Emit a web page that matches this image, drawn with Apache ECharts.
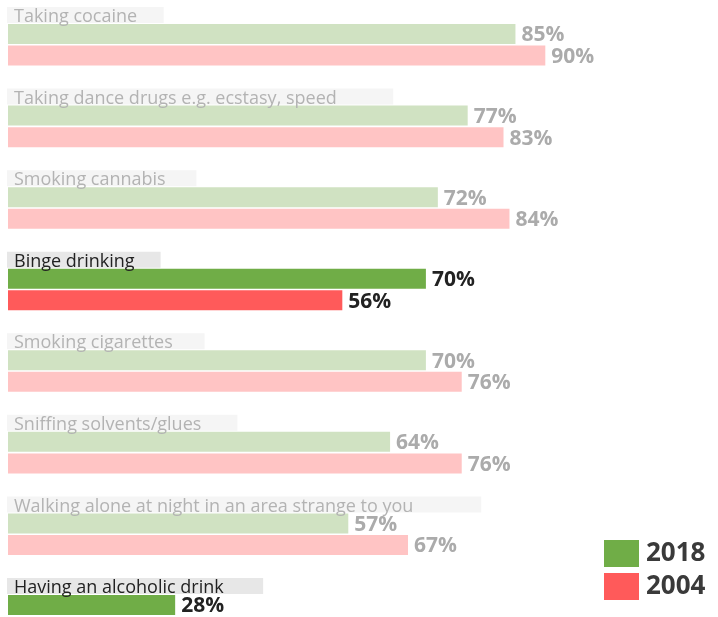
<!DOCTYPE html>
<html>
<head>
<meta charset="utf-8">
<script src="https://cdn.jsdelivr.net/npm/echarts@6/dist/echarts.min.js"></script>
<style>
  html, body { margin: 0; padding: 0; background: #fff; }
  #chart { width: 718px; height: 617px; }
</style>
</head>
<body>
<div id="chart"></div>
<script>
// Share of people who consider each activity risky, 2018 vs 2004
const categories = [
  'Taking cocaine',
  'Taking dance drugs e.g. ecstasy, speed',
  'Smoking cannabis',
  'Binge drinking',
  'Smoking cigarettes',
  'Sniffing solvents/glues',
  'Walking alone at night in an area strange to you',
  'Having an alcoholic drink'
];
const values2018 = [85, 77, 72, 70, 70, 64, 57, 28];
const values2004 = [90, 83, 84, 56, 76, 76, 67, null];
const highlighted = ['Binge drinking', 'Having an alcoholic drink'];

const GREEN = '#70AD47', GREEN_FADED = '#d0e2c2';
const RED = '#FF5A5A', RED_FADED = '#ffc4c4';
const FONT = '"Open Sans", "Noto Sans", sans-serif';

const isHi = i => highlighted.indexOf(categories[i]) >= 0;

const measureCtx = document.createElement('canvas').getContext('2d');
function textWidth(s, font) {
  measureCtx.font = font;
  return measureCtx.measureText(s).width;
}

function barData(values, strong, faded) {
  return values.map((v, i) => {
    if (v == null) return '-';
    const hi = isHi(i);
    return {
      value: v,
      itemStyle: { color: hi ? strong : faded },
      label: { color: hi ? '#222' : '#ababab' }
    };
  });
}

const chart = echarts.init(document.getElementById('chart'), null, { renderer: 'canvas' });

const BAR_W = 20;
const BAND = 81.57;
const valueLabel = {
  show: true,
  position: 'right',
  distance: 6,
  offset: [0, 1.5],
  formatter: '{c}%',
  fontFamily: FONT,
  fontWeight: 'bold',
  fontSize: 21
};

chart.setOption({
  animation: false,
  grid: {
    left: 8, top: 4, width: 597, height: BAND * categories.length,
    outerBoundsMode: 'none', containLabel: false
  },
  xAxis: { type: 'value', min: 0, max: 100, show: false },
  yAxis: { type: 'category', inverse: true, data: categories, show: false },
  legend: {
    orient: 'vertical',
    left: 599,
    top: 535,
    itemWidth: 35,
    itemHeight: 27,
    itemGap: 6,
    icon: 'rect',
    textStyle: { fontFamily: FONT, fontSize: 26, fontWeight: 'bold', color: '#3a3a3a', padding: [0, 0, 0, 2] },
    data: ['2018', '2004']
  },
  series: [
    {
      name: '2018', type: 'bar', barWidth: BAR_W, barGap: '8%',
      color: GREEN, data: barData(values2018, GREEN, GREEN_FADED),
      label: valueLabel, z: 2
    },
    {
      name: '2004', type: 'bar', barWidth: BAR_W, barGap: '8%',
      color: RED, data: barData(values2004, RED, RED_FADED),
      label: valueLabel, z: 2
    },
    {
      // category caption with its tinted strip, sitting above each pair of bars
      type: 'custom',
      z: 5,
      silent: true,
      clip: false,
      data: categories.map((c, i) => [0, i]),
      encode: { x: 0, y: 1 },
      renderItem: function (params, api) {
        const idx = api.value(1);
        const p = api.coord([0, idx]);
        const name = categories[idx];
        const hi = isHi(idx);
        const font = '18px ' + FONT;
        const tw = textWidth(name, font);
        const boxW = tw * 1.15 + 15;
        const groupTop = p[1] - (BAR_W * 2 + BAR_W * 0.08) / 2;
        const boxTop = groupTop - 17;
        return {
          type: 'group',
          children: [
            {
              type: 'rect',
              shape: { x: p[0] - 1, y: boxTop, width: boxW, height: 16 },
              style: { fill: hi ? '#e7e7e7' : '#f5f5f5' }
            },
            {
              type: 'text',
              style: {
                x: p[0] + 6, y: boxTop + 10,
                text: name,
                font: font,
                fill: hi ? '#222' : '#b3b3b3',
                textVerticalAlign: 'middle'
              }
            }
          ]
        };
      }
    }
  ]
});
</script>
</body>
</html>
